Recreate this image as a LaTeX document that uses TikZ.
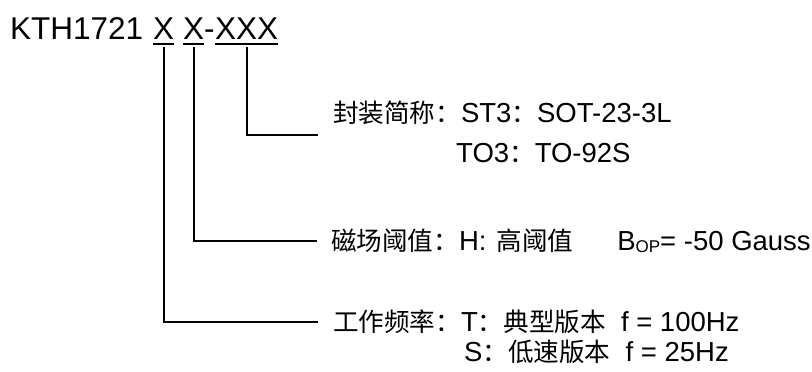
\documentclass[tikz,border=0pt]{standalone}
\usepackage{fontspec}
\setmainfont{Liberation Sans}
\newfontfamily\cjk[Scale=0.93]{Noto Sans CJK SC}
\newcommand{\opsub}{\raisebox{-2.5pt}{\fontsize{17}{17}\selectfont OP}}
\begin{document}
\begin{tikzpicture}[x=1pt,y=-1pt,
  titletext/.style={font=\fontsize{31.5}{36}\selectfont, inner sep=0pt, anchor=base west},
  lab/.style={font=\fontsize{27.5}{32}\selectfont, inner sep=0pt, anchor=west, align=left},
  conn/.style={line width=2.4pt, shorten <=8pt},
  uline/.style={line width=1.5pt}]
\useasboundingbox (0,0) rectangle (812,372);
% title
\node[titletext] (kth) at (10,39) {KTH1721};
\node[titletext] (x1) at (153,39) {X};
\node[titletext] (x2) at (183,39) {X};
\node[titletext] (dash) at (204,39) {-};
\node[titletext] (x3) at (215,39) {XXX};
\foreach \n in {x1,x2,x3}
  \draw[uline] ([yshift=-5pt]\n.base west) -- ([yshift=-5pt]\n.base east);
% labels
\node[lab] (l1) at (333,113) {{\cjk 封装简称：}ST3{\cjk ：}SOT-23-3L};
\node[lab] (l1b) at (456,153) {TO3{\cjk ：}TO-92S};
\node[lab] (l2) at (331,241) {{\cjk 磁场阈值：}H:\hspace{10pt}{\cjk 高阈值}\hspace{44pt}B\opsub= -50 Gauss};
\node[lab] (l3) at (333,322) {{\cjk 工作频率：}T{\cjk ：典型版本}\ \ f = 100Hz};
\node[lab] (l3b) at (464,352) {S{\cjk ：低速版本}\ \ f = 25Hz};
% connectors
\coordinate (e1) at (318,135);
\draw[conn] (x3.base) |- (e1);
\draw[conn, shorten >=14pt] (x2.base) |- (l2.west);
\draw[conn, shorten >=15pt] (x1.base) |- (l3.west);
\end{tikzpicture}
\end{document}
